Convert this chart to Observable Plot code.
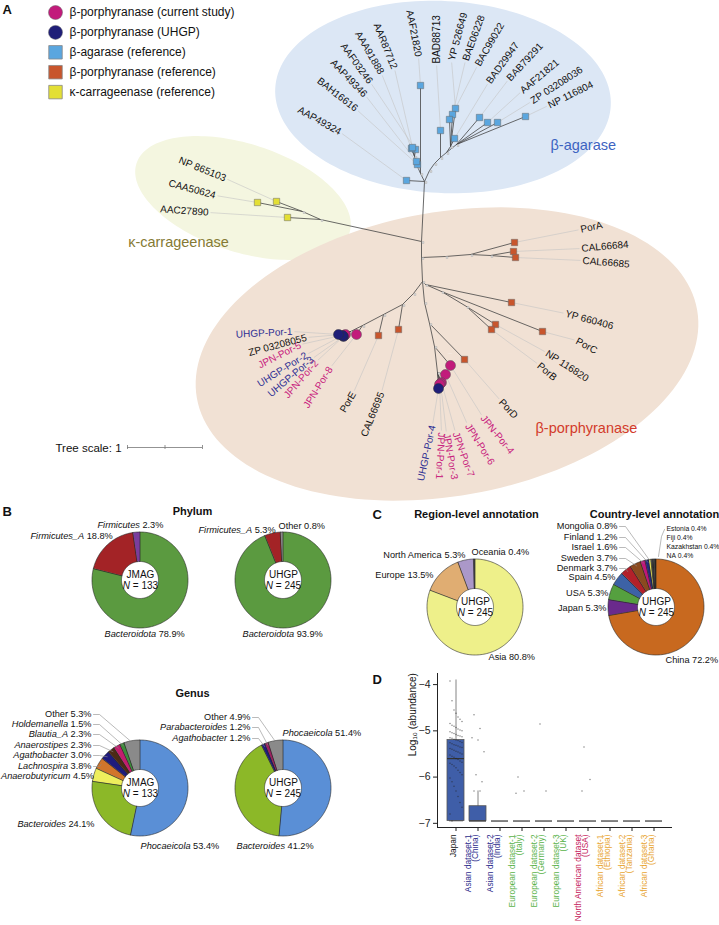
<!DOCTYPE html>
<html><head><meta charset="utf-8">
<script src="https://cdn.jsdelivr.net/npm/d3@7"></script>
<script src="https://cdn.jsdelivr.net/npm/@observablehq/plot@0.6"></script>
<style>
body{margin:0;background:#fff;}
#fig{position:relative;width:719px;height:925px;overflow:hidden;font-family:"Liberation Sans",Arial,sans-serif;}
#fig > svg{position:absolute;}
</style></head><body><div id="fig"></div>
<script>
// ================= DATA =================
// Panel A
const legendLabels = ["β-porphyranase (current study)","β-porphyranase (UHGP)","β-agarase (reference)","β-porphyranase (reference)","κ-carrageenase (reference)"];
const legendKinds = ["current","uhgp","agarase","porphRef","carrag"];
const cladeNames = ["β-agarase","κ-carrageenase","β-porphyranase"];
const tipNames = ["AAP49324","BAH16616","AAP49346","AAF03246","AAA91888","AAR87712","AAF21820","BAD88713","YP 526649","BAE06228","BAC99022","BAD29947","BAB79291","AAF21821","ZP 03208036","NP 116804",
  "NP 865103","CAA50624","AAC27890",
  "PorA","CAL66684","CAL66685","YP 660406","PorC","NP 116820","PorB","PorD",
  "JPN-Por-4","JPN-Por-6","JPN-Por-7","JPN-Por-3","JPN-Por-1","UHGP-Por-4",
  "CAL66695","PorE","JPN-Por-8","JPN-Por-2","UHGP-Por-3","UHGP-Por-2","JPN-Por-5","ZP 03208055","UHGP-Por-1"];
const tipKinds = ["agarase","agarase","agarase","agarase","agarase","agarase","agarase","agarase","agarase","agarase","agarase","agarase","agarase","agarase","agarase","agarase",
  "carrag","carrag","carrag",
  "porphRef","porphRef","porphRef","porphRef","porphRef","porphRef","porphRef","porphRef",
  "current","current","current","current","current","uhgp",
  "porphRef","porphRef","current","current","uhgp","uhgp","current","porphRef","uhgp"];
const treeScaleUnits = 1;

// Panel B
const phylumJMAGNames = ["Bacteroidota","Firmicutes_A","Firmicutes"];
const phylumJMAGValues = [78.9,18.8,2.3];
const phylumUHGPNames = ["Bacteroidota","Firmicutes_A","Other"];
const phylumUHGPValues = [93.9,5.3,0.8];
const genusJMAGNames = ["Phocaeicola","Bacteroides","Anaerobutyricum","Lachnospira","Agathobacter","Anaerostipes","Blautia_A","Holdemanella","Other"];
const genusJMAGValues = [53.4,24.1,4.5,3.8,3.0,2.3,2.3,1.5,5.3];
const genusUHGPNames = ["Phocaeicola","Bacteroides","Agathobacter","Parabacteroides","Other"];
const genusUHGPValues = [51.4,41.2,1.2,1.2,4.9];
const jmagN = 133, uhgpN = 245;

// Panel C
const regionNames = ["Asia","Europe","North America","Oceania"];
const regionValues = [80.8,13.5,5.3,0.4];
const countryNames = ["China","Japan","USA","Spain","Denmark","Sweden","Israel","Finland","Mongolia","Estonia","Fiji","Kazakhstan","NA"];
const countryValues = [72.2,5.3,5.3,4.5,3.7,3.7,1.6,1.2,0.8,0.4,0.4,0.4,0.4];

// Panel D
const dCats = ["Japan","Asian dataset-1","Asian dataset-2","European dataset-1","European dataset-2","European dataset-3","North American dataset","African dataset-1","African dataset-2","African dataset-3"];
const dSub = ["","(China)","(India)","(Italy)","(Germany)","(UK)","(USA)","(Ethiopia)","(Tanzania)","(Ghana)"];
const dGroup = ["Japan","Asian","Asian","European","European","European","North American","African","African","African"];
const dQ1  = [-6.95,-6.95,-6.95,-6.95,-6.95,-6.95,-6.95,-6.95,-6.95,-6.95];
const dMed = [-5.6,-6.95,-6.95,-6.95,-6.95,-6.95,-6.95,-6.95,-6.95,-6.95];
const dQ3  = [-5.2,-6.63,-6.95,-6.95,-6.95,-6.95,-6.95,-6.95,-6.95,-6.95];
const dLo  = [-6.95,-6.95,-6.95,-6.95,-6.95,-6.95,-6.95,-6.95,-6.95,-6.95];
const dHi  = [-3.9,-6.3,-6.95,-6.95,-6.95,-6.95,-6.95,-6.95,-6.95,-6.95];
const dTicks = [-7,-6,-5,-4];
const japanPoints = [-3.92,-4.35,-4.55,-4.62,-4.7,-4.75,-4.8,-4.84,-4.88,-4.9,-4.93,-4.96,-4.98,-5.0,-5.02,-5.04,-5.06,-5.08,-5.1,-5.11,-5.13,-5.15,-5.16,-5.18,-5.2,-5.21,-5.23,-5.25,-5.26,-5.28,-5.3,-5.31,-5.33,-5.35,-5.36,-5.38,-5.4,-5.42,-5.44,-5.46,-5.48,-5.5,-5.52,-5.55,-5.57,-5.6,-5.62,-5.65,-5.68,-5.7,-5.73,-5.76,-5.8,-5.85,-5.9,-5.95,-6.02,-6.1,-6.2,-6.3,-6.42,-6.55,-6.65,-6.8,-6.95,-6.95,-6.95,-6.95,-6.95,-6.95,-6.95,-6.95];
const chinaPoints = [-4.65,-4.95,-5.15,-5.2,-5.45,-5.95,-6.1,-6.3,-6.3];
const italyPoints = [-6.0,-6.3,-6.35];
const germanyPoints = [-4.85,-6.3];
const usaPoints = [-5.35,-6.05,-6.3];

// ================= STYLES / LAYOUT =================
const FONT = '"Liberation Sans", Arial, sans-serif';
const kindColor = {current:"#c21b7b", uhgp:"#1f1e78", agarase:"#5aa6df", porphRef:"#c8552c", carrag:"#e3df35"};
const kindText = {current:"#c8217e", uhgp:"#2f2f93", agarase:"#111", porphRef:"#111", carrag:"#111"};
const kindShape = {current:"circle", uhgp:"circle", agarase:"square", porphRef:"square", carrag:"square"};
const cladeColor = ["#3d63c1","#857a34","#d33b2b"];
const cladeFill = ["#dce7f5","#f4f6e0","#f1e1d4"];
const cladeEllipse = [[443,97,168,96,3],[243,198,112,54,18],[447,354,254,142,-10]];
const cladeLabelXY = [[550,145,"start"],[178,242,"middle"],[535,428,"start"]];

const tipXY = [
 [406,180],[417,164],[416,161],[415,149],[411,148],[412,147],[420,85],[440,130],[455,108],[452,114],[449,119],[454,138],[479,117],[487,122],[497,122],[525,116],
 [276,201],[257,202],[287,217],
 [514,242],[513,251],[515,257],[511,302],[542,331],[495,324],[491,329],[464,359],
 [450,365],[445,374],[441,382],[440,383],[439,384],[438,388],
 [398,329],[378,335],[356,334],[344,335],[343,336],[342,335],[345,334],[341,334],[338,334]];
const tipLabelXY = [
 [340,132],[356,109],[365,95],[370,82],[381,73],[394,68],[418,56],[436,63],[451,60],[465,60],[477,65],[488,82],[508,79],[521,91],[531,101],[548,105],
 [225,178],[215,195],[208,212],
 [580,229],[581,248],[582,260],[565,313],[576,340],[546,352],[538,364],[500,400],
 [482,416],[467,424],[455,432],[446,433],[441,432],[432,425],
 [381,392],[353,392],[330,367],[316,361],[312,358],[306,354],[300,344],[306,337],[292,331]];
const tipLabelAngle = [29,38,46,54,60,68,79,-90,-75,-70,-60,-54,-47,-40,-33,-26, 22,15,4, -12,-5,5,15,28,33,40,47, 51,58,70,80,93,-78, -68,-60,-58,-49,-40,-32,-27,-15,-3];
const nodeXY = {
 b0:[424,181], bL:[420,173], bL2:[417,166], bL3:[414,156], bR:[429,170], bR1:[434,163], bR2:[440,157], bR3:[446,152], bR4:[450,146], bR5:[456,144],
 t1:[421,241], t2:[421,257], t3:[422,281],
 k0:[320,219], k1:[302,211],
 a1:[445,256], a2:[470,254], a3:[490,255],
 r0:[425,284], r1:[441,291], r2:[466,306],
 d0:[424,302], d1:[429,323], d2:[434,346], d3:[437,372],
 l0:[413,293], l1:[402,304], l2:[383,314], l3:[362,325], l4:[350,331]};
const treeEdges = [
 ["b0","bL"],["b0","AAP49324"],["bL","AAF21820"],["bL","bL2"],["bL2","BAH16616"],["bL2","AAP49346"],["bL2","bL3"],["bL3","AAF03246"],["bL3","AAA91888"],["bL3","AAR87712"],
 ["b0","bR"],["bR","bR1"],["bR1","bR2"],["bR2","BAD88713"],["bR2","bR3"],["bR3","bR4"],["bR4","YP 526649"],["bR4","BAE06228"],["bR4","BAC99022"],["bR4","BAD29947"],["bR3","bR5"],["bR5","BAB79291"],["bR5","AAF21821"],["bR5","ZP 03208036"],["bR5","NP 116804"],
 ["b0","t1"],["t1","k0"],["k0","AAC27890"],["k0","k1"],["k1","CAA50624"],["k1","NP 865103"],
 ["t1","t2"],["t2","a1"],["a1","a2"],["a2","PorA"],["a2","a3"],["a3","CAL66684"],["a3","CAL66685"],
 ["t2","t3"],["t3","r0"],["r0","YP 660406"],["r0","r1"],["r1","PorC"],["r1","r2"],["r2","NP 116820"],["r2","PorB"],
 ["t3","d0"],["d0","d1"],["d1","PorD"],["d1","d2"],["d2","JPN-Por-4"],["d2","d3"],["d3","JPN-Por-6"],["d3","JPN-Por-7"],["d3","JPN-Por-3"],["d3","JPN-Por-1"],["d3","UHGP-Por-4"],
 ["t3","l0"],["l0","l1"],["l1","CAL66695"],["l1","l2"],["l2","PorE"],["l2","l3"],["l3","JPN-Por-8"],["l3","l4"],["l4","JPN-Por-2"],["l4","UHGP-Por-3"],["l4","UHGP-Por-2"],["l4","JPN-Por-5"],["l4","ZP 03208055"],["l4","UHGP-Por-1"]];
const scaleBar = {x0:127, y:447, pxPerUnit:75};

const phylumColor = {Bacteroidota:"#5b9a40", Firmicutes_A:"#a32326", Firmicutes:"#7a3d9c", Other:"#8a8a8a"};
const genusColor = {Phocaeicola:"#5a8fd6", Bacteroides:"#8cb828", Anaerobutyricum:"#eeee5c", Lachnospira:"#d1752b", Agathobacter:"#1f1b7d", Anaerostipes:"#4d2a15", Blautia_A:"#c21e6e", Holdemanella:"#3c8c3a", Parabacteroides:"#9c1f5f", Other:"#8a8a8a"};
const regionColor = {Asia:"#eef08a", Europe:"#e0ad72", "North America":"#ab98c9", Oceania:"#444"};
const countryColor = {China:"#c8691f", Japan:"#6a2a8c", USA:"#55a03f", Spain:"#3d62a6", Denmark:"#b3202a", Sweden:"#8b4a1f", Israel:"#c0157a", Finland:"#1f2a7f", Mongolia:"#e8e35a", Estonia:"#555", Fiji:"#333", Kazakhstan:"#777", NA:"#222"};
const groupColor = {Japan:"#111", Asian:"#2b2c8c", European:"#5ab34a", "North American":"#c4185b", African:"#e8a531"};
const R_OUT = 48, R_IN = 18.5;
const LBL = 9.2;

const donuts = [
 {names:phylumJMAGNames, values:phylumJMAGValues, colors:phylumColor, italic:true, title:"JMAG", n:jmagN, c:[140,580],
  labels:{Bacteroidota:[104,634,"start"], Firmicutes_A:[30,536,"start"], Firmicutes:[97,525,"start"]}},
 {names:phylumUHGPNames, values:phylumUHGPValues, colors:phylumColor, italic:true, title:"UHGP", n:uhgpN, c:[283,580],
  labels:{Bacteroidota:[242,634,"start"], Firmicutes_A:[198,530,"start"], Other:[278,526,"start"]}},
 {names:genusJMAGNames, values:genusJMAGValues, colors:genusColor, italic:true, title:"JMAG", n:jmagN, c:[140,788],
  labels:{Other:[91,714,"end",1], Holdemanella:[91,724,"end",1], Blautia_A:[91,734,"end",1], Anaerostipes:[91,745,"end",1], Agathobacter:[91,755,"end",1], Lachnospira:[91,766,"end",1], Anaerobutyricum:[91,776,"end"], Bacteroides:[94,824,"end"], Phocaeicola:[140,846,"start"]}},
 {names:genusUHGPNames, values:genusUHGPValues, colors:genusColor, italic:true, title:"UHGP", n:uhgpN, c:[283,788],
  labels:{Other:[250,717,"end",1], Parabacteroides:[250,727,"end",1], Agathobacter:[250,738,"end",1], Phocaeicola:[282,733,"start"], Bacteroides:[236,846,"start"]}},
 {names:regionNames, values:regionValues, colors:regionColor, italic:false, title:"UHGP", n:uhgpN, c:[475,607],
  labels:{Asia:[488,657,"start"], Europe:[433,575,"end"], "North America":[465,555,"end"], Oceania:[471,552,"start"]}},
 {names:countryNames, values:countryValues, colors:countryColor, italic:false, title:"UHGP", n:uhgpN, c:[656,607],
  labels:{Mongolia:[617,526,"end",1], Finland:[617,537,"end",1], Israel:[617,547,"end",1], Sweden:[617,558,"end",1], Denmark:[617,568,"end",1], Spain:[615,577,"end"], USA:[608,593,"end"], Japan:[606,608,"end"], China:[665,660,"start"],
   Estonia:[666,528,"start",0,6.8], Fiji:[666,537,"start",0,6.8], Kazakhstan:[666,546,"start",0,6.8], NA:[666,555,"start",0,6.8]}}
];

// ================= BUILD =================
const W = 719, H = 925;
const ctx = document.createElement("canvas").getContext("2d");
function tw(s, size, italic, bold) {
  ctx.font = `${italic ? "italic " : ""}${bold ? "bold " : ""}${size}px "Liberation Sans", Arial, sans-serif`;
  return ctx.measureText(s).width;
}
const texts = [];
function addText(o) { texts.push(Object.assign({size:10, italic:false, bold:false, fill:"#111", anchor:"start", rotate:0}, o)); }
function addRich(name, valStr, italicName, x, y, anchor, size) {
  const wN = tw(name, size, italicName), wS = tw(" ", size, false), wV = tw(valStr, size, false);
  const tot = wN + wS + wV;
  const x0 = Math.max(0.5, anchor === "start" ? x : anchor === "end" ? x - tot : x - tot / 2);
  addText({x:x0, y, text:name, size, italic:italicName});
  addText({x:x0 + wN + wS, y, text:valStr, size});
  return [x0, x0 + tot];
}

// Panel A: ellipses
const areaPts = [];
cladeEllipse.forEach(([cx, cy, a, b, rot], k) => {
  const th = rot * Math.PI / 180;
  for (let i = 0; i <= 160; i++) {
    const t = 2 * Math.PI * i / 160, ex = a * Math.cos(t), ey = b * Math.sin(t);
    areaPts.push({key:"ell" + k, fill:cladeFill[k], x1:cx, y1:cy,
      x2:cx + ex * Math.cos(th) - ey * Math.sin(th), y2:cy + ex * Math.sin(th) + ey * Math.cos(th)});
  }
});
cladeNames.forEach((nm, k) => addText({x:cladeLabelXY[k][0], y:cladeLabelXY[k][1], text:nm, size:14.5, fill:cladeColor[k], anchor:cladeLabelXY[k][2]}));

// Tree
const pos = Object.assign({}, nodeXY);
tipNames.forEach((n, i) => pos[n] = tipXY[i]);
const leaders = [];
tipNames.forEach((n, i) => {
  const [lx, ly] = tipLabelXY[i], [tx, ty] = tipXY[i];
  const r = tipLabelAngle[i] * Math.PI / 180;
  const dx = tx - lx, dy = ty - ly, len = Math.hypot(dx, dy);
  const anchor = dx * Math.cos(r) + dy * Math.sin(r) > 0 ? "end" : "start";
  addText({x:lx, y:ly, text:n, size:10, fill:kindText[tipKinds[i]], anchor, rotate:tipLabelAngle[i]});
  leaders.push({x1:lx + 2 * dx / len, y1:ly + 2 * dy / len, x2:tx, y2:ty});
});
const tipIdx = tipNames.map((_, i) => i);
const sq = tipIdx.filter(i => kindShape[tipKinds[i]] === "square");
const curIdx = tipIdx.filter(i => tipKinds[i] === "current");
const uhIdx = tipIdx.filter(i => tipKinds[i] === "uhgp");

// Legend
const legIdx = legendLabels.map((_, i) => i);
legendLabels.forEach((l, i) => addText({x:69, y:12 + i * 19.9, text:l, size:12}));
addText({x:2, y:9, text:"A", size:13, bold:true});
addText({x:55, y:scaleBar.y + 1, text:"Tree scale: " + treeScaleUnits, size:11.5});

// Panel titles
addText({x:2, y:511, text:"B", size:13, bold:true});
addText({x:372, y:514, text:"C", size:13, bold:true});
addText({x:372, y:679, text:"D", size:13, bold:true});
addText({x:192, y:511, text:"Phylum", size:11, bold:true, anchor:"middle"});
addText({x:192, y:693, text:"Genus", size:11, bold:true, anchor:"middle"});
addText({x:476, y:514, text:"Region-level annotation", size:11, bold:true, anchor:"middle"});
addText({x:654, y:514, text:"Country-level annotation", size:11, bold:true, anchor:"middle"});

// Donuts
const lineSegs = [];
donuts.forEach((d, di) => {
  const tot = d3.sum(d.values);
  let acc = 0;
  const [cx, cy] = d.c;
  d.names.forEach((nm, j) => {
    const a0 = acc / tot * 2 * Math.PI; acc += d.values[j];
    const a1 = acc / tot * 2 * Math.PI;
    const steps = Math.max(2, Math.ceil((a1 - a0) / 0.03));
    for (let s = 0; s <= steps; s++) {
      const t = a0 + (a1 - a0) * s / steps;
      areaPts.push({key:"d" + di + "_" + j, fill:d.colors[nm], stroke:true,
        x1:cx + R_IN * Math.sin(t), y1:cy - R_IN * Math.cos(t), x2:cx + R_OUT * Math.sin(t), y2:cy - R_OUT * Math.cos(t)});
    }
    const L = d.labels[nm];
    if (L) {
      const size = L[4] || LBL;
      const ital = d.italic && nm !== "Other";
      const [xs, xe] = addRich(nm, d.values[j].toFixed(1) + "%", ital, L[0], L[1], L[2], size);
      if (L[3]) {
        const m = (a0 + a1) / 2;
        lineSegs.push({k:"l" + di + nm, x:xe + 2, y:L[1]}, {k:"l" + di + nm, x:xe + 8, y:L[1]},
          {k:"l" + di + nm, x:cx + (R_OUT - 2) * Math.sin(m), y:cy - (R_OUT - 2) * Math.cos(m)});
      }
    }
  });
  addText({x:cx, y:cy - 6, text:d.title, size:10, anchor:"middle"});
  const rest = "= " + d.n, wN = tw("N", 10, true), wS = tw(" ", 10), wR = tw(rest, 10);
  const x0 = cx - (wN + wS + wR) / 2;
  addText({x:x0, y:cy + 5, text:"N", size:10, italic:true});
  addText({x:x0 + wN + wS, y:cy + 5, text:rest, size:10});
});
lineSegs.push({k:"smallC", x:664, y:529}, {k:"smallC", x:661, y:536}, {k:"smallC", x:658, y:556});

const textMarks = [];
for (const italic of [false, true]) for (const bold of [false, true]) for (const anchor of ["start", "middle", "end"]) {
  const arr = texts.filter(t => t.italic === italic && t.bold === bold && t.anchor === anchor);
  if (arr.length) textMarks.push(Plot.text(arr, {x:"x", y:"y", text:"text", fontSize:d => d.size, fill:"fill", rotate:d => d.rotate,
    textAnchor:anchor, fontStyle:italic ? "italic" : "normal", fontWeight:bold ? "bold" : "normal"}));
}

const main = Plot.plot({
  width:W, height:H, margin:0,
  x:{domain:[0, W], range:[0, W], axis:null},
  y:{domain:[0, H], range:[0, H], axis:null},
  color:{type:"identity"},
  style:{fontFamily:FONT, background:"white", overflow:"visible"},
  marks:[
    Plot.area(areaPts.filter(p => !p.stroke), {x1:"x1", y1:"y1", x2:"x2", y2:"y2", z:"key", fill:"fill"}),
    Plot.link(leaders, {x1:"x1", y1:"y1", x2:"x2", y2:"y2", stroke:"#c4c4c4", strokeWidth:0.6}),
    Plot.link(treeEdges, {x1:e => pos[e[0]][0], y1:e => pos[e[0]][1], x2:e => pos[e[1]][0], y2:e => pos[e[1]][1], stroke:"#444", strokeWidth:0.8}),
    Plot.dot(Object.keys(nodeXY), {x:k => nodeXY[k][0] + 1.5, y:k => nodeXY[k][1] + 1, symbol:"square", r:1.1, fill:"#d8d8d8", stroke:"#999", strokeWidth:0.3}),
    Plot.dot(sq, {x:i => tipXY[i][0], y:i => tipXY[i][1], symbol:"square", r:3.6, fill:i => kindColor[tipKinds[i]], stroke:"#666", strokeWidth:0.5}),
    Plot.dot(curIdx, {x:i => tipXY[i][0], y:i => tipXY[i][1], r:5, fill:kindColor.current, stroke:"#555", strokeWidth:0.5}),
    Plot.dot(uhIdx, {x:i => tipXY[i][0], y:i => tipXY[i][1], r:5, fill:kindColor.uhgp, stroke:"#333", strokeWidth:0.5}),
    Plot.dot(legIdx.filter(i => kindShape[legendKinds[i]] === "circle"), {x:55, y:i => 12 + i * 19.9, r:7, fill:i => kindColor[legendKinds[i]], stroke:"#666", strokeWidth:0.5}),
    Plot.dot(legIdx.filter(i => kindShape[legendKinds[i]] === "square"), {x:55, y:i => 12 + i * 19.9, symbol:"square", r:7.6, fill:i => kindColor[legendKinds[i]], stroke:"#888", strokeWidth:0.8}),
    Plot.ruleY([scaleBar.y], {x1:scaleBar.x0, x2:scaleBar.x0 + treeScaleUnits * scaleBar.pxPerUnit, stroke:"#777", strokeWidth:0.8}),
    Plot.ruleX([0, 0.5, 1], {x:u => scaleBar.x0 + u * scaleBar.pxPerUnit, y1:scaleBar.y - 2, y2:scaleBar.y + 2, stroke:"#777", strokeWidth:0.8}),
    Plot.area(areaPts.filter(p => p.stroke), {x1:"x1", y1:"y1", x2:"x2", y2:"y2", z:"key", fill:"fill", stroke:"#262626", strokeWidth:0.6}),
    Plot.line(lineSegs, {x:"x", y:"y", z:"k", stroke:"#8c8c8c", strokeWidth:0.6}),
    ...textMarks
  ]
});
main.style.left = "0px"; main.style.top = "0px";
document.getElementById("fig").appendChild(main);

// Panel D
const dIdx = dCats.map((_, i) => i);
const pts = [];
japanPoints.forEach((v, i) => pts.push({cat:dCats[0], v, k:i}));
[[1, chinaPoints], [3, italyPoints], [4, germanyPoints], [6, usaPoints]].forEach(([c, arr]) => arr.forEach((v, i) => pts.push({cat:dCats[c], v, k:i * 3 + 1})));
const jit = [-6, -4, -2, 0, 2, 4, 6];
const plotD = Plot.plot({
  width:359, height:260, marginLeft:77, marginRight:47, marginTop:8, marginBottom:98,
  style:{background:"transparent", fontFamily:FONT, fontSize:"10.5px", color:"#222", overflow:"visible"},
  color:{type:"identity"},
  x:{domain:dCats, padding:0.25, axis:"bottom", tickSize:4, tickFormat:() => "", label:null},
  y:{domain:[-7.09, -3.76], ticks:dTicks, tickSize:4, line:true, label:null, tickPadding:3, tickFormat:d => (d < 0 ? "−" : "") + Math.abs(d)},
  marks:[
    Plot.ruleY([-7.09], {stroke:"#222"}),
    Plot.ruleX(dIdx, {x:i => dCats[i], y1:i => dLo[i], y2:i => dHi[i], stroke:"#666", strokeWidth:0.8}),
    Plot.barY(dIdx, {x:i => dCats[i], y1:i => dQ1[i], y2:i => dQ3[i], fill:"#3f5ea8", stroke:"#555", strokeWidth:0.8}),
    Plot.tickY(dIdx, {x:i => dCats[i], y:i => dMed[i], stroke:"#333", strokeWidth:1.2}),
    ...jit.map((dx, c) => Plot.dot(pts.filter(p => p.k % 7 === c), {x:"cat", y:"v", dx, r:0.75, fill:"#222", fillOpacity:0.55})),
    Plot.text(dIdx, {x:i => dCats[i], text:i => dSub[i] ? dCats[i] + "\n" + dSub[i] : dCats[i], frameAnchor:"bottom", dy:7, rotate:-90, textAnchor:"end", lineHeight:0.9, fill:i => groupColor[dGroup[i]], fontSize:8.3}),
    Plot.text([-5.55], {y:d => d, text:() => "Log₁₀ (abundance)", frameAnchor:"left", dx:-25, rotate:-90, fontSize:10, fill:"#111"})
  ]
});
plotD.style.left = "360px"; plotD.style.top = "665px";
document.getElementById("fig").appendChild(plotD);
</script></body></html>
